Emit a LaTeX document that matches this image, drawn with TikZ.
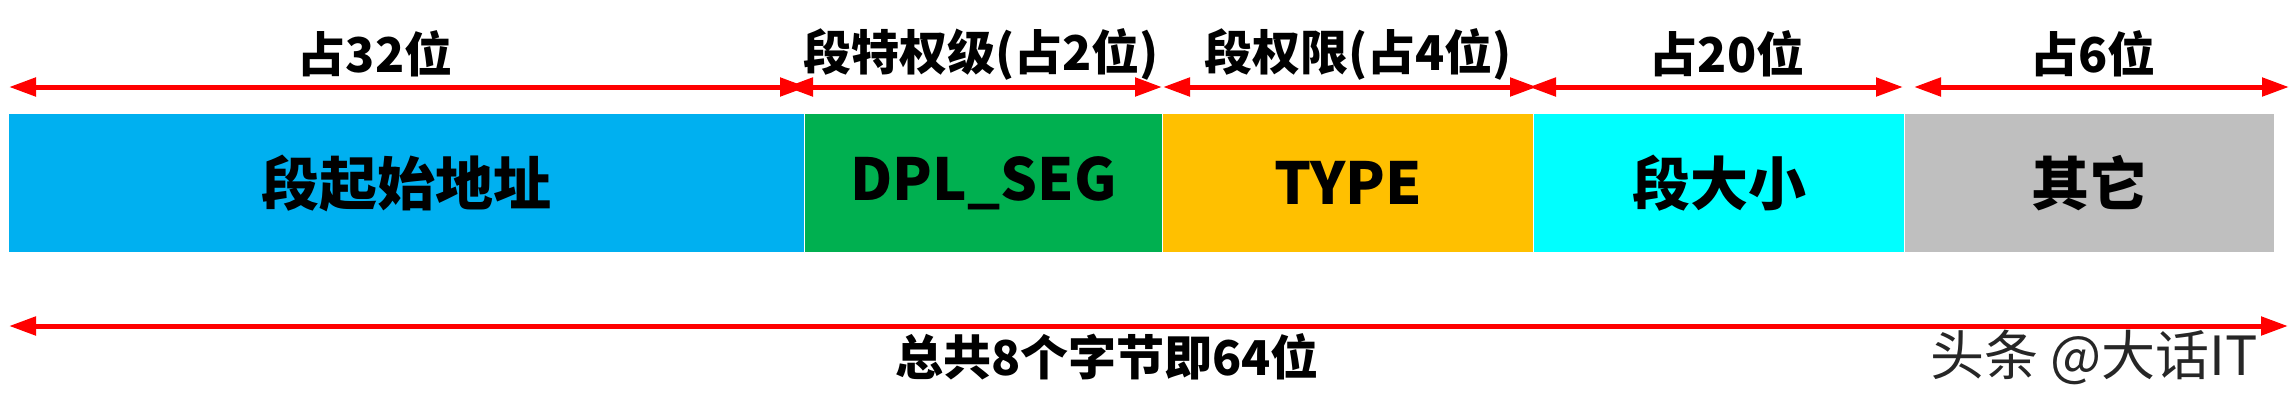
\documentclass[tikz,border=0pt]{standalone}
\usepackage{fontspec}
\setmainfont{Noto Sans CJK SC}
\usetikzlibrary{arrows.meta,positioning}
\definecolor{segblue}{HTML}{00B0F0}
\definecolor{seggreen}{HTML}{00B050}
\definecolor{segyellow}{HTML}{FFC000}
\definecolor{segcyan}{HTML}{00FFFF}
\definecolor{seggray}{HTML}{BFBFBF}
\definecolor{spanred}{HTML}{FF0000}

\tikzset{
	field/.style={draw=white, line width=1pt, anchor=north west, minimum height=139pt, inner sep=0pt, font=\fontsize{58}{60}\selectfont\bfseries},
	span/.style={spanred, line width=5pt, {Triangle[length=27pt,width=18pt]}-{Triangle[length=27pt,width=18pt]}},
	spanlabel/.style={inner sep=0pt, font=\fontsize{48}{50}\selectfont\bfseries}
}

\begin{document}
\begin{tikzpicture}[x=1pt,y=1pt,yscale=-1,xscale=1]
	\useasboundingbox (0,0) rectangle (2296,413);

	% Field Boxes
	\draw (8,113) node [field, fill=segblue, minimum width=796pt] (base) {段起始地址};
	\draw (804,113) node [field, fill=seggreen, minimum width=358pt] (dpl) {DPL\_SEG};
	\draw (1162,113) node [field, fill=segyellow, minimum width=371pt] (type) {TYPE};
	\draw (1533,113) node [field, fill=segcyan, minimum width=371pt] (limit) {段大小};
	\draw (1904,113) node [field, fill=seggray, minimum width=370pt] (other) {其它};

	% Span Ends
	\coordinate (s1a) at (9,87);
	\coordinate (s1b) at (807,87);
	\coordinate (s2a) at (786,87);
	\coordinate (s2b) at (1162,87);
	\coordinate (s3a) at (1163,87);
	\coordinate (s3b) at (1537,87);
	\coordinate (s4a) at (1529,87);
	\coordinate (s4b) at (1903,87);
	\coordinate (s5a) at (1914,87);
	\coordinate (s5b) at (2289,87);
	\coordinate (alla) at (9,326);
	\coordinate (allb) at (2288,326);

	% Connection
	\draw [span] (s1a) -- (s1b);
	\draw [span] (s2a) -- (s2b);
	\draw [span] (s3a) -- (s3b);
	\draw [span] (s4a) -- (s4b);
	\draw [span] (s5a) -- (s5b);
	\draw [span] (alla) -- (allb);

	% Text Node
	\draw (375,54) node [spanlabel] (w1) {占32位};
	% Text Node
	\draw (981,54) node [spanlabel] (w2) {段特权级(占2位)};
	% Text Node
	\draw (1358,54) node [spanlabel] (w3) {段权限(占4位)};
	% Text Node
	\draw (1727,54) node [spanlabel] (w4) {占20位};
	% Text Node
	\draw (2093,54) node [spanlabel] (w5) {占6位};
	% Text Node
	\draw (1107,357) node [spanlabel] (total) {总共8个字节即64位};
	% Text Node
	\draw (2258,357) node [anchor=east, inner sep=0pt, text=black!85, font=\fontsize{54}{56}\selectfont] (mark) {头条 @大话IT};
\end{tikzpicture}
\end{document}
